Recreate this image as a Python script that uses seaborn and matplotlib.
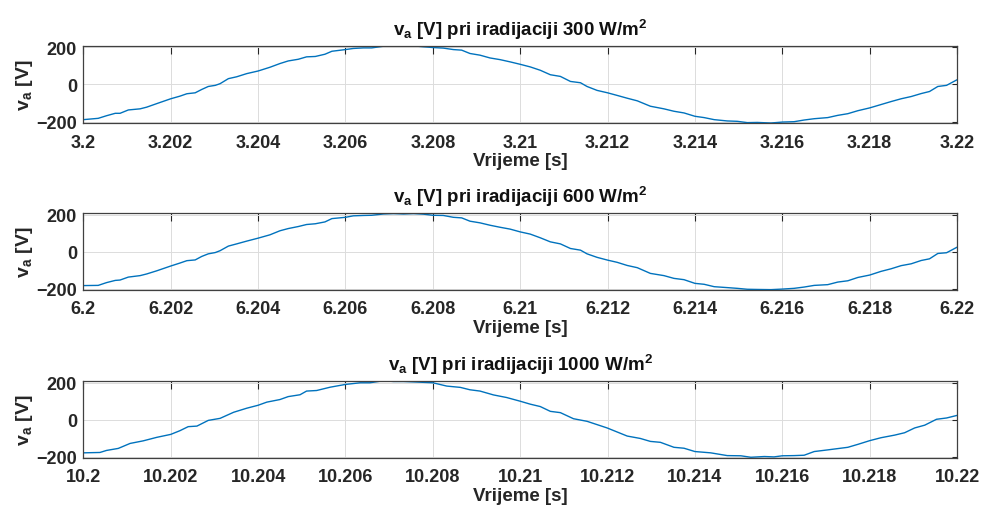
import seaborn as sns
import matplotlib.pyplot as plt
import matplotlib.ticker as mticker
import pandas as pd
import numpy as np

# time offsets inside each 20 ms window [ms]
t_ms_300 = [0, 0.34, 0.53, 0.73, 0.84, 1.03, 1.30, 1.45, 1.68, 2.0,
            2.21, 2.37, 2.56, 2.71, 2.86, 3.02, 3.13, 3.32, 3.51, 3.74,
            4.0, 4.27, 4.50, 4.69, 4.92, 5.11, 5.31, 5.53, 5.69, 6.0,
            6.18, 6.41, 6.60, 6.87, 7.10, 7.33, 7.56, 7.79, 8.0, 8.24,
            8.47, 8.66, 8.85, 9.08, 9.31, 9.54, 9.77, 10.0, 10.23, 10.46,
            10.69, 10.92, 11.15, 11.38, 11.53, 11.76, 12.0, 12.22, 12.45, 12.68,
            12.98, 13.29, 13.52, 13.75, 14.0, 14.21, 14.44, 14.74, 14.97, 15.20,
            15.43, 15.74, 16.0, 16.27, 16.50, 16.73, 17.04, 17.27, 17.50, 17.73,
            18.0, 18.26, 18.49, 18.72, 18.95, 19.18, 19.37, 19.56, 19.76, 20.0]
va_300 = [-189, -182, -168, -155, -155, -137, -131, -122, -103, -77,
          -63, -50, -45, -27, -11, -5, 4, 31, 41, 58,
          72, 92, 112, 126, 135, 148, 150, 162, 178, 187,
          193, 196, 196, 205, 205, 205, 207, 202, 198, 195,
          187, 184, 166, 157, 142, 133, 121, 108, 94, 76,
          52, 43, 16, 9, -11, -32, -45, -59, -74, -88,
          -117, -131, -144, -153, -171, -178, -189, -196, -198, -205,
          -204, -207, -202, -200, -191, -184, -178, -166, -157, -141,
          -126, -108, -92, -77, -65, -49, -38, -11, -5, 25]

t_ms_600 = t_ms_300
va_600 = [-184, -183, -168, -156, -154, -138, -130, -121, -104, -78,
          -62, -49, -45, -26, -12, -5, 5, 30, 42, 57,
          73, 91, 113, 125, 136, 147, 151, 161, 179, 186,
          194, 196, 197, 204, 206, 204, 206, 203, 197, 196,
          186, 183, 165, 156, 143, 132, 122, 107, 95, 75,
          53, 42, 17, 8, -12, -31, -46, -58, -75, -87,
          -118, -130, -145, -152, -172, -177, -190, -195, -199, -204,
          -205, -206, -203, -199, -192, -183, -179, -165, -158, -140,
          -127, -107, -93, -76, -66, -48, -39, -10, -6, 24]

t_ms_1000 = [0, 0.38, 0.53, 0.80, 1.07, 1.37, 1.68, 2.0, 2.21, 2.40,
             2.60, 2.86, 3.13, 3.44, 3.74, 4.0, 4.20, 4.50, 4.69, 4.96,
             5.11, 5.34, 5.65, 6.0, 6.34, 6.56, 6.87, 7.10, 7.33, 7.63,
             8.0, 8.32, 8.63, 8.85, 9.08, 9.39, 9.69, 10.0, 10.23, 10.46,
             10.69, 10.92, 11.22, 11.53, 11.99, 12.45, 12.75, 12.98, 13.21, 13.52,
             13.75, 14.0, 14.36, 14.74, 15.05, 15.28, 15.59, 15.81, 16.0, 16.27,
             16.50, 16.73, 17.04, 17.27, 17.50, 17.73, 18.0, 18.26, 18.57, 18.80,
             19.03, 19.26, 19.53, 19.76, 20.0]
va_1000 = [-180, -178, -167, -156, -129, -115, -96, -80, -60, -38,
           -35, -4, 7, 40, 62, 78, 95, 109, 125, 135,
           155, 158, 176, 191, 200, 200, 211, 207, 207, 204,
           200, 182, 175, 162, 155, 134, 120, 100, 84, 71,
           45, 38, 5, -9, -45, -89, -102, -118, -123, -150,
           -155, -173, -180, -195, -196, -204, -200, -202, -196, -195,
           -193, -173, -164, -157, -150, -134, -114, -98, -84, -71,
           -45, -30, 2, 9, 23]

t_start = [3.2, 6.2, 10.2]
irradiance = [300, 600, 1000]

sns.set_style('white')
plt.rcParams['font.family'] = ['Liberation Sans', 'DejaVu Sans']
plt.rcParams['mathtext.fontset'] = 'custom'
plt.rcParams['mathtext.rm'] = 'Liberation Sans'
plt.rcParams['mathtext.bf'] = 'Liberation Sans:bold'
plt.rcParams['mathtext.it'] = 'Liberation Sans:italic'

fig = plt.figure(figsize=(9.84, 5.10), dpi=100)
boxes = [[0.0847, 0.7565, 0.8879, 0.1520],
         [0.0847, 0.4294, 0.8879, 0.1505],
         [0.0847, 0.1000, 0.8879, 0.1504]]

series = [(t_ms_300, va_300), (t_ms_600, va_600), (t_ms_1000, va_1000)]

def fmt(v, pos):
    return f'{v:.3f}'.rstrip('0').rstrip('.')

for box, (tms, va), t0, irr in zip(boxes, series, t_start, irradiance):
    ax = fig.add_axes(box)
    df = pd.DataFrame({'t': t0 + np.array(tms) / 1000.0, 'va': va})
    sns.lineplot(data=df, x='t', y='va', ax=ax, color='#0072BD', linewidth=1.0)
    ax.set_xlim(t0, t0 + 0.02)
    ax.set_ylim(-208, 208)
    ax.set_xticks(np.linspace(t0, t0 + 0.02, 11))
    ax.set_yticks([-200, 0, 200])
    ax.xaxis.set_major_formatter(mticker.FuncFormatter(fmt))
    ax.grid(True, color='#dcdcdc', linewidth=0.7)
    for s in ax.spines.values():
        s.set_color('#404040')
        s.set_linewidth(0.9)
    ax.tick_params(axis='both', direction='in', top=True, right=True,
                   colors='#262626', labelsize=13, width=0.8)
    ax.tick_params(axis='x', length=5.5, pad=7.5)
    ax.tick_params(axis='y', length=3.5, pad=4.5)
    for lab in ax.get_xticklabels() + ax.get_yticklabels():
        lab.set_fontweight('bold')
    ax.set_xlabel('Vrijeme [s]', fontsize=13.5, fontweight='bold', labelpad=1, color='#262626')
    ax.set_ylabel(r'$\mathbf{v_a}$ [V]', fontsize=14, fontweight='bold', labelpad=1, color='#262626')
    ax.set_title(r'$\mathbf{v_a}$ [V] pri iradijaciji ' + str(irr) + r' W/m$^\mathbf{2}$',
                 fontsize=13.5, fontweight='bold', pad=8, color='#111111')

fig.savefig('out.png', dpi=100)
